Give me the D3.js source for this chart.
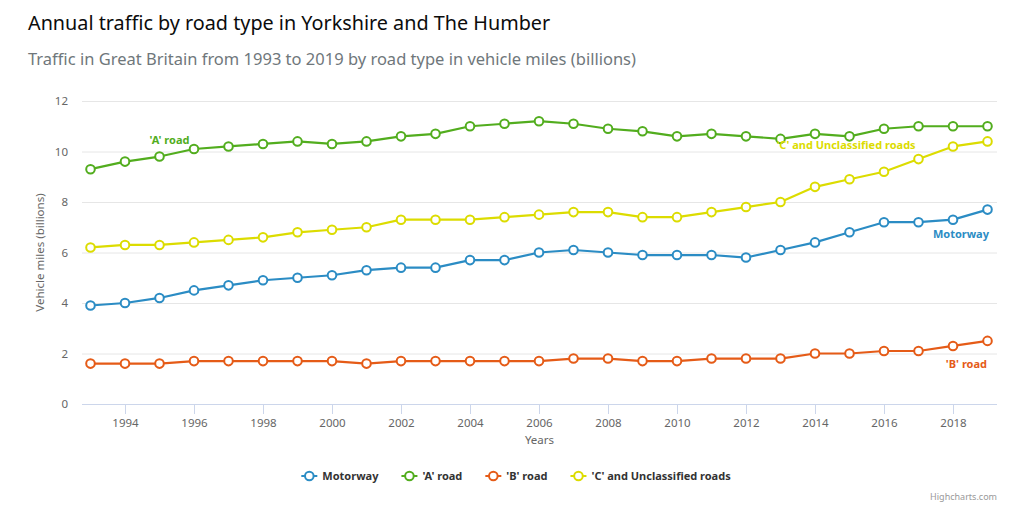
<!DOCTYPE html>
<html>
<head>
<meta charset="utf-8">
<script src="https://cdn.jsdelivr.net/npm/d3@7"></script>
<style>
  html, body { margin: 0; padding: 0; background: #fff; }
  svg { display: block; font-family: "Noto Sans", "Open Sans", sans-serif; }
</style>
</head>
<body>
<svg id="chart" width="1032" height="521"></svg>
<script>
const years = d3.range(1993, 2020);
const motorway = [3.9,4.0,4.2,4.5,4.7,4.9,5.0,5.1,5.3,5.4,5.4,5.7,5.7,6.0,6.1,6.0,5.9,5.9,5.9,5.8,6.1,6.4,6.8,7.2,7.2,7.3,7.7];
const aRoad    = [9.3,9.6,9.8,10.1,10.2,10.3,10.4,10.3,10.4,10.6,10.7,11.0,11.1,11.2,11.1,10.9,10.8,10.6,10.7,10.6,10.5,10.7,10.6,10.9,11.0,11.0,11.0];
const bRoad    = [1.6,1.6,1.6,1.7,1.7,1.7,1.7,1.7,1.6,1.7,1.7,1.7,1.7,1.7,1.8,1.8,1.7,1.7,1.8,1.8,1.8,2.0,2.0,2.1,2.1,2.3,2.5];
const cRoad    = [6.2,6.3,6.3,6.4,6.5,6.6,6.8,6.9,7.0,7.3,7.3,7.3,7.4,7.5,7.6,7.6,7.4,7.4,7.6,7.8,8.0,8.6,8.9,9.2,9.7,10.2,10.4];
const seriesNames = ["Motorway", "'A' road", "'B' road", "'C' and Unclassified roads"];
const yTicks = [0, 2, 4, 6, 8, 10, 12];
const xTicks = d3.range(1994, 2020, 2);
const titleText = "Annual traffic by road type in Yorkshire and The Humber";
const subtitleText = "Traffic in Great Britain from 1993 to 2019 by road type in vehicle miles (billions)";

const colors = ["#2b8cc4", "#52ad1e", "#e55b17", "#dcdc00"];
const seriesData = [motorway, aRoad, bRoad, cRoad];

const svg = d3.select("#chart");
const plotLeft = 82, plotRight = 997, plotTop = 101, plotBottom = 404;

const x = d3.scaleLinear().domain([1993, 2019]).range([90.5, 987.5]);
const y = d3.scaleLinear().domain([0, 12]).range([plotBottom, plotTop]);

// Title & subtitle
svg.append("text").attr("x", 28).attr("y", 30)
  .attr("font-size", 19.8).attr("fill", "#0b0c0c").text(titleText);
svg.append("text").attr("x", 28).attr("y", 65)
  .attr("font-size", 16.5).attr("fill", "#6f777b").text(subtitleText);

// gridlines
const yAxisG = svg.append("g").attr("transform", `translate(${plotLeft},0)`)
  .call(d3.axisLeft(y).tickValues(yTicks).tickSize(-(plotRight - plotLeft)).tickPadding(14));
yAxisG.select(".domain").remove();
yAxisG.selectAll(".tick line").attr("stroke", "#e6e6e6");
yAxisG.selectAll(".tick").filter(d => d === 0).select("line").remove();
yAxisG.selectAll(".tick text").attr("fill", "#666").attr("font-size", 11.5)
  .attr("font-family", "Noto Sans, sans-serif");

// x axis
const xAxisG = svg.append("g").attr("transform", `translate(0,${plotBottom})`)
  .call(d3.axisBottom(x).tickValues(xTicks).tickFormat(d3.format("d")).tickSize(10).tickPadding(5).tickSizeOuter(0));
xAxisG.select(".domain").attr("stroke", "#ccd6eb").attr("d", `M${plotLeft},0.5H${plotRight}`);
xAxisG.selectAll(".tick line").attr("stroke", "#ccd6eb");
xAxisG.selectAll(".tick text").attr("fill", "#666").attr("font-size", 11.5)
  .attr("font-family", "Noto Sans, sans-serif");

// axis titles
svg.append("text").attr("x", (plotLeft + plotRight) / 2).attr("y", 444)
  .attr("text-anchor", "middle").attr("font-size", 11.5).attr("fill", "#666").text("Years");
svg.append("text").attr("transform", `translate(44,${(plotTop + plotBottom) / 2}) rotate(-90)`)
  .attr("text-anchor", "middle").attr("font-size", 11.5).attr("fill", "#666").text("Vehicle miles (billions)");

// lines
const line = d3.line().x((d, i) => x(years[i])).y(d => y(d));
seriesData.forEach((vals, si) => {
  const g = svg.append("g");
  g.append("path").datum(vals).attr("d", line).attr("fill", "none")
    .attr("stroke", colors[si]).attr("stroke-width", 2.2).attr("stroke-linejoin", "round");
  g.selectAll("circle").data(vals).join("circle")
    .attr("cx", (d, i) => x(years[i])).attr("cy", d => y(d)).attr("r", 4.3)
    .attr("fill", "#fff").attr("stroke", colors[si]).attr("stroke-width", 2);
});

// series labels
const labelSpec = [
  { s: 0, year: 2018, val: motorway[25], dx: 36, dy: 18, anchor: "end" },
  { s: 1, year: 1995, val: aRoad[2], dx: 10, dy: -13, anchor: "middle" },
  { s: 2, year: 2018, val: bRoad[25], dx: 34, dy: 22, anchor: "end" },
  { s: 3, year: 2014, val: cRoad[21], dx: 31, dy: -38, anchor: "middle" }
];
labelSpec.forEach(l => {
  svg.append("text")
    .attr("x", x(l.year) + l.dx).attr("y", y(l.val) + l.dy)
    .attr("text-anchor", l.anchor).attr("font-size", 11).attr("font-weight", "bold")
    .attr("fill", colors[l.s]).text(seriesNames[l.s]);
});

// legend
const legend = svg.append("g").attr("transform", "translate(0,476)");
let lx = 0;
const items = [];
seriesNames.forEach((name, i) => {
  const g = legend.append("g");
  g.append("line").attr("x1", 0).attr("x2", 16).attr("y1", 0).attr("y2", 0)
    .attr("stroke", colors[i]).attr("stroke-width", 2);
  g.append("circle").attr("cx", 8).attr("cy", 0).attr("r", 4.3)
    .attr("fill", "#fff").attr("stroke", colors[i]).attr("stroke-width", 2);
  const t = g.append("text").attr("x", 21).attr("y", 4).attr("font-size", 11)
    .attr("font-weight", "bold").attr("fill", "#333").text(name);
  const w = 21 + t.node().getComputedTextLength();
  items.push({ g, w });
});
const gap = 23;
const total = d3.sum(items, d => d.w) + gap * (items.length - 1);
lx = (1032 - total) / 2;
items.forEach(it => { it.g.attr("transform", `translate(${lx},0)`); lx += it.w + gap; });

// credits
svg.append("text").attr("x", 997).attr("y", 500).attr("text-anchor", "end")
  .attr("font-size", 9).attr("fill", "#999").text("Highcharts.com");
</script>
</body>
</html>
